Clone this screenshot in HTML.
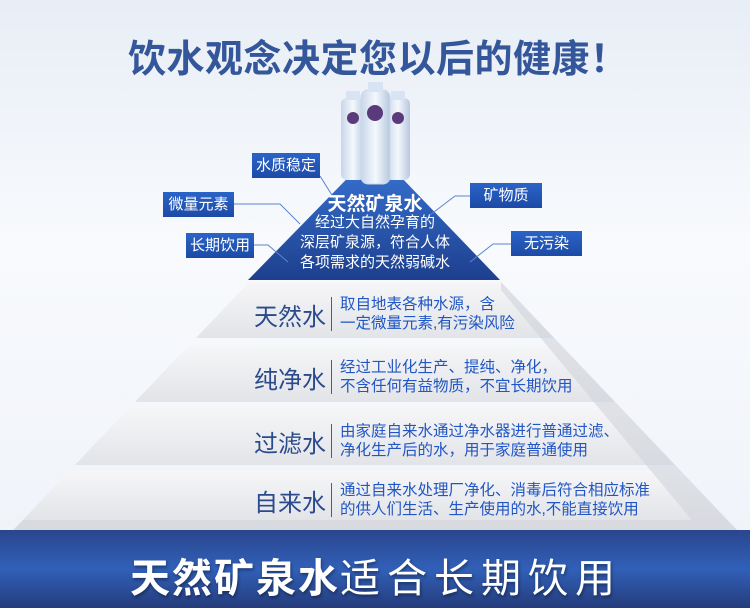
<!DOCTYPE html>
<html><head><meta charset="utf-8"><style>
body{margin:0;width:750px;height:608px;overflow:hidden;position:relative;font-family:"Liberation Sans","Noto Sans CJK SC",sans-serif;background:linear-gradient(#e8eef6,#f8fafd 40%,#eef2f8)}
.t{position:absolute;white-space:nowrap}
.lab{position:absolute;background:linear-gradient(#2a64c8,#1d4aa6);color:#fff;font-size:15px;line-height:25px;text-align:center;height:25px}
.nm{position:absolute;left:246px;width:80px;text-align:right;font-size:24px;color:#2b4a8c}
.dv{position:absolute;left:331px;width:1px;background:#3a5ea8}
.ds{position:absolute;left:340px;font-size:15.5px;line-height:19px;color:#2156c4;white-space:nowrap}
</style></head><body>
<svg width="750" height="608" style="position:absolute;left:0;top:0">
<defs>
<linearGradient id="g1" x1="0" y1="0" x2="0" y2="1"><stop offset="0" stop-color="#f6f6f8"/><stop offset="1" stop-color="#e2e4e8"/></linearGradient>
<linearGradient id="ap" x1="0" y1="0" x2="0" y2="1"><stop offset="0" stop-color="#3a78d8"/><stop offset="1" stop-color="#1e3f8e"/></linearGradient>
<linearGradient id="bt" x1="0" y1="0" x2="1" y2="0"><stop offset="0" stop-color="#c8d6ea"/><stop offset=".5" stop-color="#f4f8fc"/><stop offset="1" stop-color="#b8c8e0"/></linearGradient>
<linearGradient id="bb" x1="0" y1="0" x2="0" y2="1"><stop offset="0" stop-color="#2a468e"/><stop offset=".5" stop-color="#3160b8"/><stop offset="1" stop-color="#253c7c"/></linearGradient>
</defs>
<polygon points="249,282 501,282 554,338 196,338" fill="url(#g1)"/>
<polygon points="189,345 561,345 615,402 135,402" fill="url(#g1)"/>
<polygon points="129,408 621,408 675,465 75,465" fill="url(#g1)"/>
<polygon points="69,471 681,471 727,520 23,520" fill="url(#g1)"/>
<polygon points="501,282 737,530 700,530 501,290" fill="#d0d3da" opacity=".6"/>
<polygon points="23,520 727,520 737,530 13,530" fill="#d8dae0"/>
<rect x="0" y="530" width="750" height="78" fill="url(#bb)"/>
<polygon points="375,150 500,280 248,280" fill="url(#ap)"/>
<g stroke="#5a86d0" stroke-width="1" fill="none">
<polyline points="320,176 335,200"/>
<polyline points="234,204 280,204 300,224"/>
<polyline points="254,245 268,245 288,262"/>
<polyline points="470,196 455,196 430,215"/>
<polyline points="511,244 493,244 470,262"/>
</g>
<g>
<rect x="341" y="98" width="24" height="82" rx="6" fill="url(#bt)"/>
<rect x="386" y="98" width="24" height="82" rx="6" fill="url(#bt)"/>
<rect x="361" y="90" width="29" height="94" rx="7" fill="url(#bt)" stroke="#cbd8ea"/>
<rect x="368" y="82" width="15" height="10" fill="#d8e4f4"/>
<rect x="346" y="91" width="14" height="9" fill="#d8e4f4"/>
<rect x="391" y="91" width="14" height="9" fill="#d8e4f4"/>
<circle cx="375" cy="113" r="8" fill="#5a3a7a"/>
<circle cx="353" cy="118" r="6" fill="#5a3a7a"/>
<circle cx="398" cy="118" r="6" fill="#5a3a7a"/>
</g>
</svg>
<div class="t" style="left:128px;top:28px;font-size:38px;font-weight:bold;color:#34569a;letter-spacing:0.5px">饮水观念决定您以后的健康！</div>

<div class="lab" style="left:252px;top:153px;width:68px">水质稳定</div>
<div class="lab" style="left:163px;top:192px;width:71px">微量元素</div>
<div class="lab" style="left:186px;top:233px;width:68px">长期饮用</div>
<div class="lab" style="left:470px;top:183px;width:72px">矿物质</div>
<div class="lab" style="left:511px;top:231px;width:71px">无污染</div>

<div class="t" style="left:250px;width:250px;top:189px;text-align:center;font-size:19px;font-weight:bold;color:#fff">天然矿泉水</div>
<div class="t" style="left:250px;width:250px;top:213px;text-align:center;font-size:15px;line-height:20px;color:#fff">经过大自然孕育的<br>深层矿泉源，符合人体<br>各项需求的天然弱碱水</div>

<div class="nm" style="top:297px">天然水</div><div class="dv" style="top:297px;height:34px"></div>
<div class="ds" style="top:295px">取自地表各种水源，含<br>一定微量元素,有污染风险</div>
<div class="nm" style="top:360px">纯净水</div><div class="dv" style="top:360px;height:34px"></div>
<div class="ds" style="top:358px">经过工业化生产、提纯、净化，<br>不含任何有益物质，不宜长期饮用</div>
<div class="nm" style="top:424px">过滤水</div><div class="dv" style="top:424px;height:34px"></div>
<div class="ds" style="top:422px">由家庭自来水通过净水器进行普通过滤、<br>净化生产后的水，用于家庭普通使用</div>
<div class="nm" style="top:483px">自来水</div><div class="dv" style="top:483px;height:34px"></div>
<div class="ds" style="top:481px">通过自来水处理厂净化、消毒后符合相应标准<br>的供人们生活、生产使用的水,不能直接饮用</div>

<div class="t" style="left:130px;top:546px;font-size:40px;color:#fff;text-shadow:1px 2px 3px rgba(0,0,0,.4)"><b style="letter-spacing:2px">天然矿泉水</b><span style="letter-spacing:7px">适合长期饮用</span></div>
</body></html>
